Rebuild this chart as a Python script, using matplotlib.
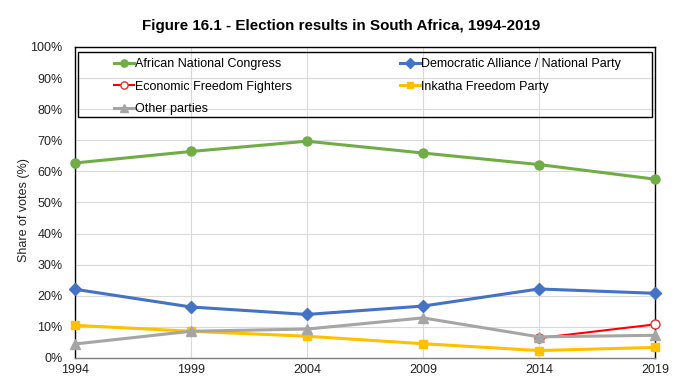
import matplotlib
matplotlib.use('Agg')
import matplotlib.pyplot as plt
from matplotlib.patches import Rectangle

plt.rcParams['font.family'] = ['Liberation Sans', 'DejaVu Sans']

years = [1994, 1999, 2004, 2009, 2014, 2019]
anc = [62.7, 66.4, 69.7, 65.9, 62.2, 57.5]
da_np = [22.1, 16.4, 14.0, 16.7, 22.2, 20.8]
eff_years = [2014, 2019]
eff = [6.4, 10.8]
ifp = [10.5, 8.6, 7.0, 4.6, 2.4, 3.4]
other = [4.5, 8.6, 9.3, 12.9, 6.8, 7.3]
yticks = list(range(0, 101, 10))


def main():
    fig = plt.figure(figsize=(6.97, 3.77), dpi=100)
    ax = fig.add_axes([0.1076, 0.0504, 0.832, 0.825])

    l_anc, = ax.plot(years, anc, color='#70AD47', lw=2.2, marker='o', ms=6.5,
                     label='African National Congress', zorder=3, clip_on=False)
    l_da, = ax.plot(years, da_np, color='#4472C4', lw=2.2, marker='D', ms=6,
                    label='Democratic Alliance / National Party', zorder=3, clip_on=False)
    l_eff, = ax.plot(eff_years, eff, color='#FF0000', lw=1.5, marker='o', ms=6.5,
                     mfc='white', mec='#E03030', label='Economic Freedom Fighters',
                     zorder=3, clip_on=False)
    l_ifp, = ax.plot(years, ifp, color='#FFC000', lw=2.2, marker='s', ms=6,
                     label='Inkatha Freedom Party', zorder=3, clip_on=False)
    l_oth, = ax.plot(years, other, color='#A5A5A5', lw=2.2, marker='^', ms=7,
                     label='Other parties', zorder=4, clip_on=False)

    ax.set_xlim(1994, 2019)
    ax.set_ylim(0, 100)
    ax.set_xticks(years)
    ax.set_yticks(yticks)
    ax.set_yticklabels(['%d%%' % v for v in yticks])
    ax.tick_params(length=0, labelsize=9, colors='#222222')
    ax.tick_params(axis='x', pad=4)
    ax.tick_params(axis='y', pad=9)
    ax.grid(True, color='#D9D9D9', lw=0.8)
    ax.set_axisbelow(True)
    for s in ['left', 'right', 'top']:
        ax.spines[s].set_color('black')
        ax.spines[s].set_linewidth(1.0)
    ax.spines['bottom'].set_color('#808080')
    ax.spines['bottom'].set_linewidth(1.0)

    ax.set_ylabel('Share of votes (%)', fontsize=9, color='#222222')
    ax.yaxis.set_label_coords(-0.077, 0.476)
    fig.text(0.49, 0.93, 'Figure 16.1 - Election results in South Africa, 1994-2019',
             ha='center', va='center', fontsize=10.9, fontweight='bold')

    # legend frame drawn separately so the columns sit like the reference
    ax.add_patch(Rectangle((0.005, 0.775), 0.99, 0.21, transform=ax.transAxes,
                           fill=False, ec='black', lw=1.0, zorder=5))
    ax.legend(handles=[l_anc, l_eff, l_oth, l_da, l_ifp], ncol=2,
              loc='upper left', bbox_to_anchor=(0.048, 1.0), frameon=False,
              fontsize=9, handlelength=1.6, handletextpad=0.1,
              columnspacing=8.6, labelspacing=0.85, markerscale=0.8)

    fig.savefig('out.png', dpi=100)


if __name__ == '__main__':
    main()
